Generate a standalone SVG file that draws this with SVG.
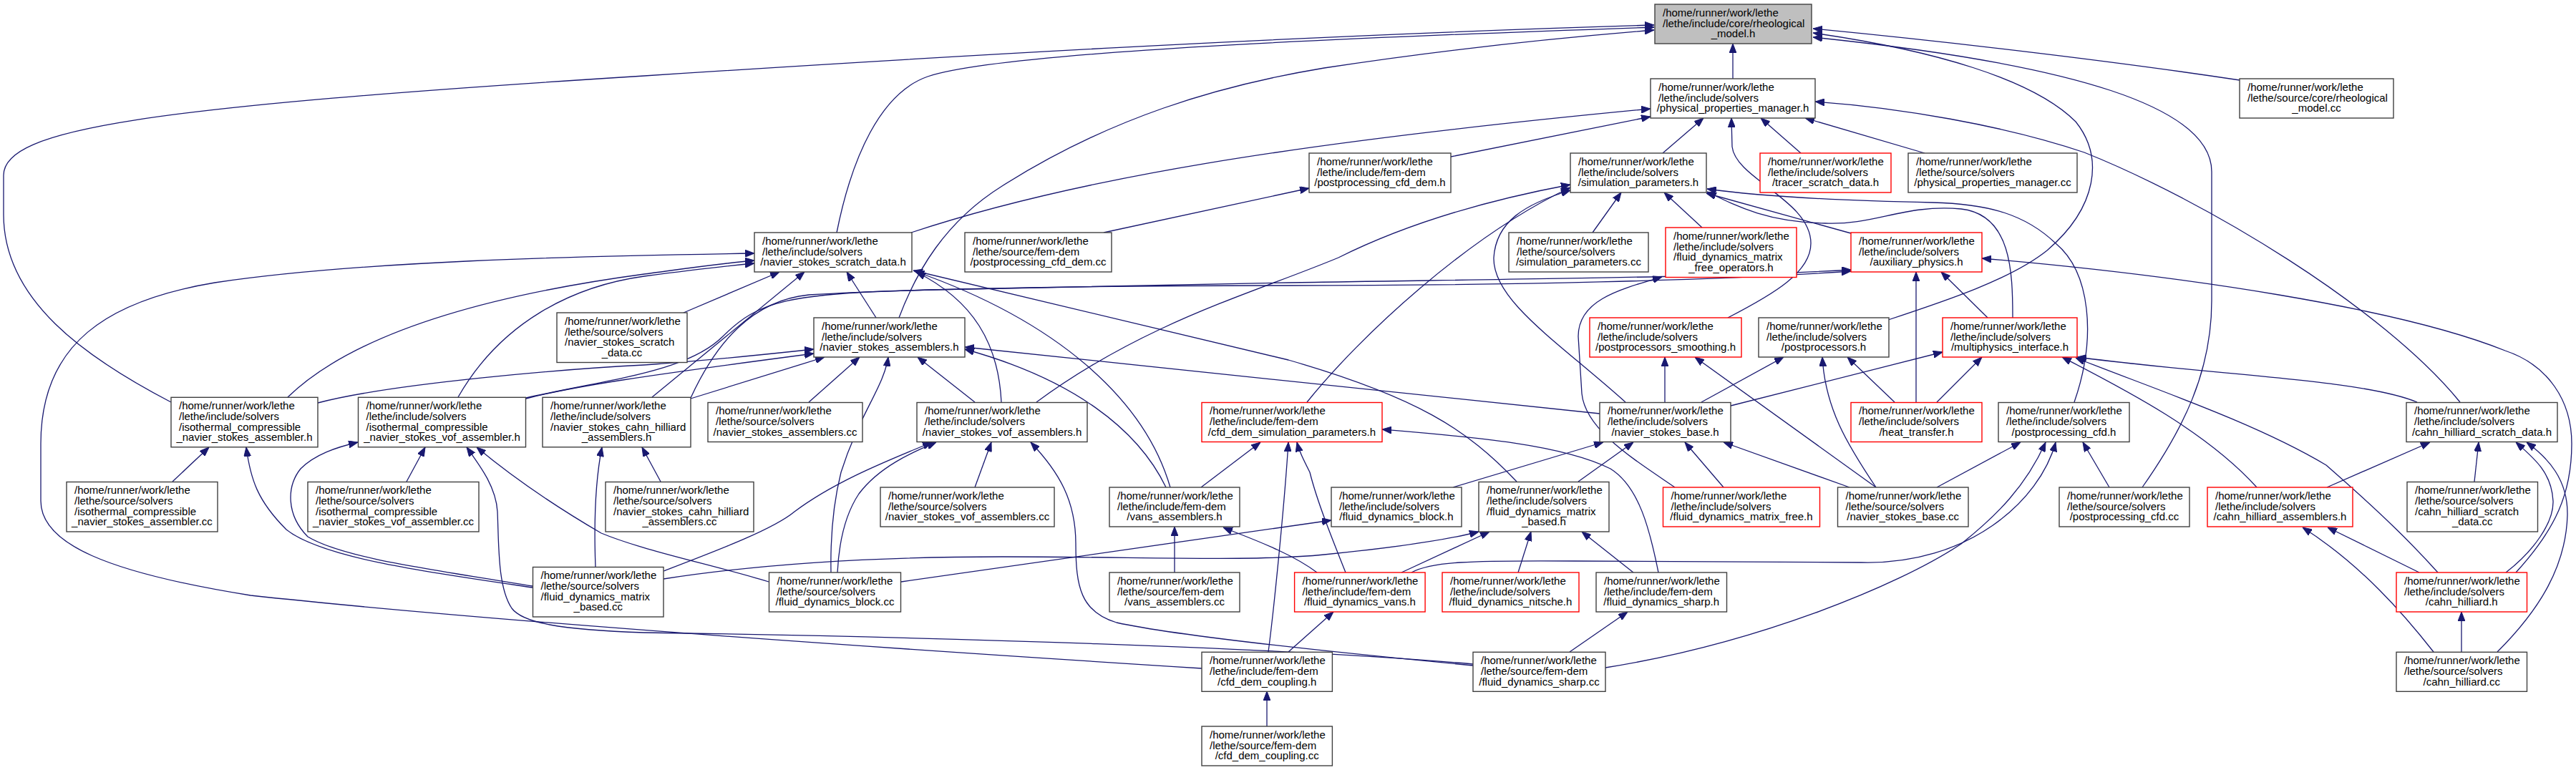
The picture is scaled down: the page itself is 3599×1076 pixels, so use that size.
<svg xmlns="http://www.w3.org/2000/svg" width="3599" height="1076" viewBox="0 0 3599 1076">
<style>
rect{fill:#fff;stroke:#404040;stroke-width:1.4}
.red rect{stroke:#ff0000}
.root rect{fill:#bfbfbf}
text{font-family:"Liberation Sans",Arial,sans-serif;font-size:15px;fill:#000}
.c{text-anchor:middle}
#edges path{fill:none;stroke:#191970;stroke-width:1.3;marker-end:url(#a)}
</style>
<defs>
<marker id="a" markerUnits="userSpaceOnUse" markerWidth="13" markerHeight="10" refX="13" refY="5" orient="auto"><path d="M0,0 L13,5 L0,10 z" fill="#191970" stroke="#191970" stroke-width="1"/></marker>
</defs>
<rect x="0" y="0" width="3599" height="1076" style="fill:#fff;stroke:none"/>
<g id="edges">
<path d="M2421,110 L2421,61"/>
<path d="M3129,112 C2950,85 2720,58 2533,40"/>
<path d="M2638,447 C2720,420 2810,390 2860,350 C2930,290 2940,220 2900,170 C2840,110 2700,70 2533,46"/>
<path d="M2993,681 C3050,600 3090,520 3090,420 L3090,240 C3090,150 2900,90 2533,52"/>
<path d="M239,562 C120,500 5,420 5,300 L5,245 C5,180 200,150 900,106 C1300,80 1800,50 2311,35"/>
<path d="M1169,325 C1190,220 1230,130 1296,107 C1400,72 1900,52 2311,38"/>
<path d="M1256,444 C1280,380 1320,310 1400,260 C1550,165 1700,120 1850,95 C2000,72 2150,55 2311,42"/>
<path d="M2323,214 L2380,165"/>
<path d="M2516,214 L2460,165"/>
<path d="M2689,214 L2522,165"/>
<path d="M2027,219 L2306,163"/>
<path d="M1273,325 C1500,250 1800,200 2306,152"/>
<path d="M1542,325 L1829,263"/>
<path d="M2414,444 C2480,410 2530,380 2530,340 C2530,280 2425,250 2420,205 L2419,165"/>
<path d="M2225,325 L2265,269"/>
<path d="M2378,318 L2325,269"/>
<path d="M2586,326 L2384,270"/>
<path d="M2812,444 C2812,380 2810,300 2740,292 C2660,285 2620,315 2550,312 C2470,310 2430,290 2385,268"/>
<path d="M2898,562 C2930,470 2920,380 2872,340 C2830,300 2780,285 2700,283 C2550,280 2450,273 2385,264"/>
<path d="M1826,562 C1900,470 2050,330 2194,262"/>
<path d="M2271,562 C2180,480 2085,420 2087,360 C2090,310 2130,285 2194,266"/>
<path d="M1448,562 C1600,450 1750,410 1870,360 C1950,320 2050,285 2194,258"/>
<path d="M3437,562 C3330,430 3080,280 2912,213 C2800,175 2650,150 2536,142"/>
<path d="M955,437 L1089,380"/>
<path d="M911,555 L1124,380"/>
<path d="M1224,444 L1183,380"/>
<path d="M402,555 C500,460 700,410 900,383 C960,375 1000,369 1054,364"/>
<path d="M640,555 C700,450 800,400 900,386 C960,378 1010,372 1054,368"/>
<path d="M1679,934 C1300,910 700,870 350,832 C150,800 57,760 57,700 L57,620 C57,480 150,420 300,395 C500,365 800,358 1054,354"/>
<path d="M1399,562 C1395,480 1360,420 1280,380"/>
<path d="M1635,681 C1600,560 1480,450 1278,379"/>
<path d="M2119,673 C2050,600 1980,555 1800,503 L1276,378"/>
<path d="M1130,562 L1201,499"/>
<path d="M1362,562 L1282,499"/>
<path d="M1161,800 C1160,750 1165,700 1175,660 C1200,580 1235,540 1241,499"/>
<path d="M965,557 L1152,499"/>
<path d="M444,563 C550,535 800,515 900,510 C1000,503 1080,494 1137,488"/>
<path d="M735,557 C800,540 900,525 1137,494"/>
<path d="M2235,578 L1348,485"/>
<path d="M1629,681 C1590,600 1500,530 1348,488"/>
<path d="M735,556 C850,530 960,520 1010,470 C1060,420 1100,410 1300,405 L1800,395 C2100,390 2400,388 2586,377"/>
<path d="M965,556 C1000,480 1050,420 1130,412 C1300,402 1600,399 1800,399 C2100,399 2400,392 2586,379"/>
<path d="M2677,562 L2677,380"/>
<path d="M2777,444 L2712,380"/>
<path d="M3515,800 C3570,740 3593,690 3593,620 C3593,560 3560,510 3500,490 C3350,430 3050,385 2769,361"/>
<path d="M3501,800 C3540,770 3568,730 3567,700 C3565,660 3540,640 3515,618"/>
<path d="M3489,911 C3550,850 3585,790 3587,720 C3588,670 3560,640 3530,618"/>
<path d="M3406,800 C3370,760 3330,720 3250,650 C3150,590 3000,540 2900,500"/>
<path d="M3153,681 C3080,600 2960,540 2881,499"/>
<path d="M3377,562 C3300,530 3100,525 2902,499"/>
<path d="M2706,562 L2769,499"/>
<path d="M2418,567 L2714,492"/>
<path d="M3251,681 L3395,618"/>
<path d="M3457,673 L3463,618"/>
<path d="M3380,800 L3252,737"/>
<path d="M3400,911 C3360,860 3300,790 3217,737"/>
<path d="M3439,911 L3439,855"/>
<path d="M2706,681 L2823,618"/>
<path d="M2243,933 C2450,900 2650,820 2740,760 C2790,720 2830,680 2858,618"/>
<path d="M1972,800 C2000,785 2050,783 2200,784 L2600,786 C2750,790 2850,700 2872,618"/>
<path d="M2947,681 L2910,618"/>
<path d="M2584,681 L2408,618"/>
<path d="M2621,681 C2580,620 2550,570 2546,499"/>
<path d="M2621,681 L2368,499"/>
<path d="M2326,562 L2326,499"/>
<path d="M2377,562 L2492,499"/>
<path d="M2647,562 L2581,499"/>
<path d="M2030,681 L2240,618"/>
<path d="M2205,673 L2282,618"/>
<path d="M2408,681 L2354,618"/>
<path d="M2340,681 C2280,640 2215,600 2210,550 L2205,470 C2205,420 2260,405 2322,387"/>
<path d="M1259,813 L1860,727"/>
<path d="M927,809 C1050,790 1200,778 1400,778 C1600,778 1750,785 1850,775 C1950,765 2020,755 2066,743"/>
<path d="M927,798 C1000,770 1080,740 1110,715 C1170,670 1250,640 1302,618"/>
<path d="M1170,800 C1172,760 1180,720 1200,690 C1230,650 1280,630 1308,618"/>
<path d="M1074,813 C1000,790 900,770 840,745 C780,710 720,670 666,625"/>
<path d="M744,821 C600,800 450,780 400,740 C360,700 350,670 344,625"/>
<path d="M744,819 C600,795 480,780 430,750 C400,720 400,680 420,655 C440,635 470,625 500,618"/>
<path d="M832,793 C830,740 830,680 841,625"/>
<path d="M923,673 L897,625"/>
<path d="M241,673 L292,625"/>
<path d="M568,673 L594,625"/>
<path d="M2058,928 C1800,905 1300,890 900,884 C780,880 730,870 715,850 C695,820 697,760 695,715 C693,680 670,650 652,625"/>
<path d="M2058,930 C1900,915 1650,890 1560,870 C1510,855 1503,820 1503,760 C1503,700 1480,660 1440,618"/>
<path d="M2193,911 L2274,855"/>
<path d="M1840,800 C1800,770 1740,750 1709,737"/>
<path d="M1880,800 C1860,750 1840,700 1830,660 C1820,640 1815,630 1812,618"/>
<path d="M1958,800 L2081,743"/>
<path d="M2121,800 L2139,743"/>
<path d="M2282,800 L2210,743"/>
<path d="M2317,800 C2305,740 2290,680 2250,655 C2180,620 2050,610 1931,600"/>
<path d="M1678,681 L1761,618"/>
<path d="M1772,911 C1780,850 1795,700 1800,618"/>
<path d="M1800,911 L1863,855"/>
<path d="M1770,1015 L1770,966"/>
<path d="M1641,800 L1641,736"/>
<path d="M1362,681 L1385,618"/>
</g>
<g id="n_rheological_model_h" class="root"><rect x="2312" y="6" width="219" height="55"/><text x="2323" y="22.8">/home/runner/work/lethe</text><text x="2323" y="37.5">/lethe/include/core/rheological</text><text class="c" x="2421.5" y="52.2">_model.h</text></g>
<g id="n_physical_properties_manager_h"><rect x="2306" y="110" width="230" height="55"/><text x="2317" y="126.8">/home/runner/work/lethe</text><text x="2317" y="141.5">/lethe/include/solvers</text><text class="c" x="2421" y="156.2">/physical_properties_manager.h</text></g>
<g id="n_rheological_model_cc"><rect x="3129" y="110" width="215" height="55"/><text x="3140" y="126.8">/home/runner/work/lethe</text><text x="3140" y="141.5">/lethe/source/core/rheological</text><text class="c" x="3236.5" y="156.2">_model.cc</text></g>
<g id="n_postprocessing_cfd_dem_h"><rect x="1829" y="214" width="198" height="55"/><text x="1840" y="230.8">/home/runner/work/lethe</text><text x="1840" y="245.5">/lethe/include/fem-dem</text><text class="c" x="1928" y="260.2">/postprocessing_cfd_dem.h</text></g>
<g id="n_simulation_parameters_h"><rect x="2194" y="214" width="190" height="55"/><text x="2205" y="230.8">/home/runner/work/lethe</text><text x="2205" y="245.5">/lethe/include/solvers</text><text class="c" x="2289" y="260.2">/simulation_parameters.h</text></g>
<g id="n_tracer_scratch_data_h" class="red"><rect x="2459" y="214" width="183" height="55"/><text x="2470" y="230.8">/home/runner/work/lethe</text><text x="2470" y="245.5">/lethe/include/solvers</text><text class="c" x="2550.5" y="260.2">/tracer_scratch_data.h</text></g>
<g id="n_physical_properties_manager_cc"><rect x="2666" y="214" width="236" height="55"/><text x="2677" y="230.8">/home/runner/work/lethe</text><text x="2677" y="245.5">/lethe/source/solvers</text><text class="c" x="2784" y="260.2">/physical_properties_manager.cc</text></g>
<g id="n_navier_stokes_scratch_data_h"><rect x="1054" y="325" width="220" height="55"/><text x="1065" y="341.8">/home/runner/work/lethe</text><text x="1065" y="356.5">/lethe/include/solvers</text><text class="c" x="1164" y="371.2">/navier_stokes_scratch_data.h</text></g>
<g id="n_postprocessing_cfd_dem_cc"><rect x="1348" y="325" width="205" height="55"/><text x="1359" y="341.8">/home/runner/work/lethe</text><text x="1359" y="356.5">/lethe/source/fem-dem</text><text class="c" x="1450.5" y="371.2">/postprocessing_cfd_dem.cc</text></g>
<g id="n_simulation_parameters_cc"><rect x="2108" y="325" width="195" height="55"/><text x="2119" y="341.8">/home/runner/work/lethe</text><text x="2119" y="356.5">/lethe/source/solvers</text><text class="c" x="2205.5" y="371.2">/simulation_parameters.cc</text></g>
<g id="n_fluid_dynamics_matrix_free_operators_h" class="red"><rect x="2327" y="318" width="183" height="69.5"/><text x="2338" y="334.8">/home/runner/work/lethe</text><text x="2338" y="349.5">/lethe/include/solvers</text><text x="2338" y="364.2">/fluid_dynamics_matrix</text><text class="c" x="2418.5" y="378.9">_free_operators.h</text></g>
<g id="n_auxiliary_physics_h" class="red"><rect x="2586" y="325" width="183" height="55"/><text x="2597" y="341.8">/home/runner/work/lethe</text><text x="2597" y="356.5">/lethe/include/solvers</text><text class="c" x="2677.5" y="371.2">/auxiliary_physics.h</text></g>
<g id="n_navier_stokes_scratch_data_cc"><rect x="778" y="437" width="182" height="69.5"/><text x="789" y="453.8">/home/runner/work/lethe</text><text x="789" y="468.5">/lethe/source/solvers</text><text x="789" y="483.2">/navier_stokes_scratch</text><text class="c" x="869" y="497.9">_data.cc</text></g>
<g id="n_navier_stokes_assemblers_h"><rect x="1137" y="444" width="211" height="55"/><text x="1148" y="460.8">/home/runner/work/lethe</text><text x="1148" y="475.5">/lethe/include/solvers</text><text class="c" x="1242.5" y="490.2">/navier_stokes_assemblers.h</text></g>
<g id="n_postprocessors_smoothing_h" class="red"><rect x="2221" y="444" width="212" height="55"/><text x="2232" y="460.8">/home/runner/work/lethe</text><text x="2232" y="475.5">/lethe/include/solvers</text><text class="c" x="2327" y="490.2">/postprocessors_smoothing.h</text></g>
<g id="n_postprocessors_h"><rect x="2457" y="444" width="182" height="55"/><text x="2468" y="460.8">/home/runner/work/lethe</text><text x="2468" y="475.5">/lethe/include/solvers</text><text class="c" x="2548" y="490.2">/postprocessors.h</text></g>
<g id="n_multiphysics_interface_h" class="red"><rect x="2714" y="444" width="188" height="55"/><text x="2725" y="460.8">/home/runner/work/lethe</text><text x="2725" y="475.5">/lethe/include/solvers</text><text class="c" x="2808" y="490.2">/multiphysics_interface.h</text></g>
<g id="n_isothermal_compressible_navier_stokes_assembler_h"><rect x="239" y="555.3" width="205" height="69.5"/><text x="250" y="572.1">/home/runner/work/lethe</text><text x="250" y="586.8">/lethe/include/solvers</text><text x="250" y="601.5">/isothermal_compressible</text><text class="c" x="341.5" y="616.2">_navier_stokes_assembler.h</text></g>
<g id="n_isothermal_compressible_navier_stokes_vof_assembler_h"><rect x="500.5" y="555.3" width="234" height="69.5"/><text x="511.5" y="572.1">/home/runner/work/lethe</text><text x="511.5" y="586.8">/lethe/include/solvers</text><text x="511.5" y="601.5">/isothermal_compressible</text><text class="c" x="617.5" y="616.2">_navier_stokes_vof_assembler.h</text></g>
<g id="n_navier_stokes_cahn_hilliard_assemblers_h"><rect x="758" y="555.3" width="207" height="69.5"/><text x="769" y="572.1">/home/runner/work/lethe</text><text x="769" y="586.8">/lethe/include/solvers</text><text x="769" y="601.5">/navier_stokes_cahn_hilliard</text><text class="c" x="861.5" y="616.2">_assemblers.h</text></g>
<g id="n_navier_stokes_assemblers_cc"><rect x="989" y="562.5" width="216" height="55"/><text x="1000" y="579.3">/home/runner/work/lethe</text><text x="1000" y="594">/lethe/source/solvers</text><text class="c" x="1097" y="608.7">/navier_stokes_assemblers.cc</text></g>
<g id="n_navier_stokes_vof_assemblers_h"><rect x="1281" y="562.5" width="238" height="55"/><text x="1292" y="579.3">/home/runner/work/lethe</text><text x="1292" y="594">/lethe/include/solvers</text><text class="c" x="1400" y="608.7">/navier_stokes_vof_assemblers.h</text></g>
<g id="n_cfd_dem_simulation_parameters_h" class="red"><rect x="1679" y="562.5" width="252" height="55"/><text x="1690" y="579.3">/home/runner/work/lethe</text><text x="1690" y="594">/lethe/include/fem-dem</text><text class="c" x="1805" y="608.7">/cfd_dem_simulation_parameters.h</text></g>
<g id="n_navier_stokes_base_h"><rect x="2235" y="562.5" width="183" height="55"/><text x="2246" y="579.3">/home/runner/work/lethe</text><text x="2246" y="594">/lethe/include/solvers</text><text class="c" x="2326.5" y="608.7">/navier_stokes_base.h</text></g>
<g id="n_heat_transfer_h" class="red"><rect x="2586" y="562.5" width="183" height="55"/><text x="2597" y="579.3">/home/runner/work/lethe</text><text x="2597" y="594">/lethe/include/solvers</text><text class="c" x="2677.5" y="608.7">/heat_transfer.h</text></g>
<g id="n_postprocessing_cfd_h"><rect x="2792" y="562.5" width="183" height="55"/><text x="2803" y="579.3">/home/runner/work/lethe</text><text x="2803" y="594">/lethe/include/solvers</text><text class="c" x="2883.5" y="608.7">/postprocessing_cfd.h</text></g>
<g id="n_cahn_hilliard_scratch_data_h"><rect x="3362" y="562.5" width="211" height="55"/><text x="3373" y="579.3">/home/runner/work/lethe</text><text x="3373" y="594">/lethe/include/solvers</text><text class="c" x="3467.5" y="608.7">/cahn_hilliard_scratch_data.h</text></g>
<g id="n_isothermal_compressible_navier_stokes_assembler_cc"><rect x="93" y="673.5" width="211" height="69.5"/><text x="104" y="690.3">/home/runner/work/lethe</text><text x="104" y="705">/lethe/source/solvers</text><text x="104" y="719.7">/isothermal_compressible</text><text class="c" x="198.5" y="734.4">_navier_stokes_assembler.cc</text></g>
<g id="n_isothermal_compressible_navier_stokes_vof_assembler_cc"><rect x="430" y="673.5" width="239" height="69.5"/><text x="441" y="690.3">/home/runner/work/lethe</text><text x="441" y="705">/lethe/source/solvers</text><text x="441" y="719.7">/isothermal_compressible</text><text class="c" x="549.5" y="734.4">_navier_stokes_vof_assembler.cc</text></g>
<g id="n_navier_stokes_cahn_hilliard_assemblers_cc"><rect x="846" y="673.5" width="207" height="69.5"/><text x="857" y="690.3">/home/runner/work/lethe</text><text x="857" y="705">/lethe/source/solvers</text><text x="857" y="719.7">/navier_stokes_cahn_hilliard</text><text class="c" x="949.5" y="734.4">_assemblers.cc</text></g>
<g id="n_navier_stokes_vof_assemblers_cc"><rect x="1230" y="681" width="243" height="55"/><text x="1241" y="697.8">/home/runner/work/lethe</text><text x="1241" y="712.5">/lethe/source/solvers</text><text class="c" x="1351.5" y="727.2">/navier_stokes_vof_assemblers.cc</text></g>
<g id="n_vans_assemblers_h"><rect x="1550" y="681" width="182" height="55"/><text x="1561" y="697.8">/home/runner/work/lethe</text><text x="1561" y="712.5">/lethe/include/fem-dem</text><text class="c" x="1641" y="727.2">/vans_assemblers.h</text></g>
<g id="n_fluid_dynamics_block_h"><rect x="1860" y="681" width="182" height="55"/><text x="1871" y="697.8">/home/runner/work/lethe</text><text x="1871" y="712.5">/lethe/include/solvers</text><text class="c" x="1951" y="727.2">/fluid_dynamics_block.h</text></g>
<g id="n_fluid_dynamics_matrix_based_h"><rect x="2066" y="673.5" width="182" height="69.5"/><text x="2077" y="690.3">/home/runner/work/lethe</text><text x="2077" y="705">/lethe/include/solvers</text><text x="2077" y="719.7">/fluid_dynamics_matrix</text><text class="c" x="2157" y="734.4">_based.h</text></g>
<g id="n_fluid_dynamics_matrix_free_h" class="red"><rect x="2323.5" y="681" width="219" height="55"/><text x="2334.5" y="697.8">/home/runner/work/lethe</text><text x="2334.5" y="712.5">/lethe/include/solvers</text><text class="c" x="2433" y="727.2">/fluid_dynamics_matrix_free.h</text></g>
<g id="n_navier_stokes_base_cc"><rect x="2567.5" y="681" width="182.5" height="55"/><text x="2578.5" y="697.8">/home/runner/work/lethe</text><text x="2578.5" y="712.5">/lethe/source/solvers</text><text class="c" x="2658.75" y="727.2">/navier_stokes_base.cc</text></g>
<g id="n_postprocessing_cfd_cc"><rect x="2877" y="681" width="182" height="55"/><text x="2888" y="697.8">/home/runner/work/lethe</text><text x="2888" y="712.5">/lethe/source/solvers</text><text class="c" x="2968" y="727.2">/postprocessing_cfd.cc</text></g>
<g id="n_cahn_hilliard_assemblers_h" class="red"><rect x="3084" y="681" width="203" height="55"/><text x="3095" y="697.8">/home/runner/work/lethe</text><text x="3095" y="712.5">/lethe/include/solvers</text><text class="c" x="3185.5" y="727.2">/cahn_hilliard_assemblers.h</text></g>
<g id="n_cahn_hilliard_scratch_data_cc"><rect x="3363" y="673.5" width="182.5" height="69.5"/><text x="3374" y="690.3">/home/runner/work/lethe</text><text x="3374" y="705">/lethe/source/solvers</text><text x="3374" y="719.7">/cahn_hilliard_scratch</text><text class="c" x="3454.25" y="734.4">_data.cc</text></g>
<g id="n_fluid_dynamics_matrix_based_cc"><rect x="744.5" y="792.5" width="182.5" height="69.5"/><text x="755.5" y="809.3">/home/runner/work/lethe</text><text x="755.5" y="824">/lethe/source/solvers</text><text x="755.5" y="838.7">/fluid_dynamics_matrix</text><text class="c" x="835.75" y="853.4">_based.cc</text></g>
<g id="n_fluid_dynamics_block_cc"><rect x="1074.5" y="800" width="184" height="55"/><text x="1085.5" y="816.8">/home/runner/work/lethe</text><text x="1085.5" y="831.5">/lethe/source/solvers</text><text class="c" x="1166.5" y="846.2">/fluid_dynamics_block.cc</text></g>
<g id="n_vans_assemblers_cc"><rect x="1550" y="800" width="182" height="55"/><text x="1561" y="816.8">/home/runner/work/lethe</text><text x="1561" y="831.5">/lethe/source/fem-dem</text><text class="c" x="1641" y="846.2">/vans_assemblers.cc</text></g>
<g id="n_fluid_dynamics_vans_h" class="red"><rect x="1808.6" y="800" width="182.5" height="55"/><text x="1819.6" y="816.8">/home/runner/work/lethe</text><text x="1819.6" y="831.5">/lethe/include/fem-dem</text><text class="c" x="1899.85" y="846.2">/fluid_dynamics_vans.h</text></g>
<g id="n_fluid_dynamics_nitsche_h" class="red"><rect x="2015" y="800" width="191" height="55"/><text x="2026" y="816.8">/home/runner/work/lethe</text><text x="2026" y="831.5">/lethe/include/solvers</text><text class="c" x="2110.5" y="846.2">/fluid_dynamics_nitsche.h</text></g>
<g id="n_fluid_dynamics_sharp_h"><rect x="2230" y="800" width="182.5" height="55"/><text x="2241" y="816.8">/home/runner/work/lethe</text><text x="2241" y="831.5">/lethe/include/fem-dem</text><text class="c" x="2321.25" y="846.2">/fluid_dynamics_sharp.h</text></g>
<g id="n_cahn_hilliard_h" class="red"><rect x="3348" y="800" width="182.5" height="55"/><text x="3359" y="816.8">/home/runner/work/lethe</text><text x="3359" y="831.5">/lethe/include/solvers</text><text class="c" x="3439.25" y="846.2">/cahn_hilliard.h</text></g>
<g id="n_cfd_dem_coupling_h"><rect x="1679" y="911.3" width="182.4" height="55"/><text x="1690" y="928.1">/home/runner/work/lethe</text><text x="1690" y="942.8">/lethe/include/fem-dem</text><text class="c" x="1770.2" y="957.5">/cfd_dem_coupling.h</text></g>
<g id="n_fluid_dynamics_sharp_cc"><rect x="2058" y="911.3" width="185" height="55"/><text x="2069" y="928.1">/home/runner/work/lethe</text><text x="2069" y="942.8">/lethe/source/fem-dem</text><text class="c" x="2150.5" y="957.5">/fluid_dynamics_sharp.cc</text></g>
<g id="n_cahn_hilliard_cc"><rect x="3348" y="911.3" width="182.5" height="55"/><text x="3359" y="928.1">/home/runner/work/lethe</text><text x="3359" y="942.8">/lethe/source/solvers</text><text class="c" x="3439.25" y="957.5">/cahn_hilliard.cc</text></g>
<g id="n_cfd_dem_coupling_cc"><rect x="1679" y="1015" width="182.4" height="55"/><text x="1690" y="1031.8">/home/runner/work/lethe</text><text x="1690" y="1046.5">/lethe/source/fem-dem</text><text class="c" x="1770.2" y="1061.2">/cfd_dem_coupling.cc</text></g>
</svg>
